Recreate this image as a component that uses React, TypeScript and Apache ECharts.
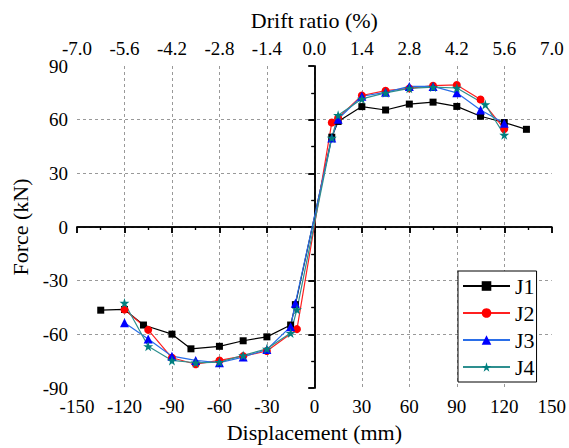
import React, { useEffect, useRef } from "react";
import * as echarts from "echarts";

const seriesNames = ["J1", "J2", "J3", "J4"];

const j1X = [-135, -120, -108, -90, -78, -60, -45, -30, -15, -12, 11, 15, 30, 45, 60, 75, 90, 105, 120, 134];
const j1Y = [-46.5, -46.1, -54.8, -59.9, -68.1, -66.7, -63.6, -61.4, -54.8, -43.4, 50.2, 59, 67.3, 65.4, 68.7, 69.8, 67.4, 61.9, 58.4, 54.6];

const j2X = [-120, -105, -90, -75, -60, -45, -30, -11, 11, 15, 30, 45, 60, 75, 90, 105, 120];
const j2Y = [-46.1, -57.5, -73.1, -76.7, -74.6, -72.2, -69.3, -57.1, 58.4, 61, 73.5, 76.2, 77.5, 79, 79.4, 71.3, 54.8];

const j3X = [-120, -105, -90, -75, -60, -45, -30, -15, -12, 11, 15, 30, 45, 60, 75, 90, 105, 120];
const j3Y = [-53.5, -62.6, -72.2, -74.6, -75.9, -72.7, -68.5, -55.7, -42.6, 49.8, 60.3, 73.1, 75.3, 78.6, 78.6, 75, 65.4, 58];

const j4X = [-120, -105, -90, -75, -60, -45, -30, -15, -11, 11, 15, 30, 45, 60, 75, 90, 108, 120];
const j4Y = [-42.5, -66.7, -74.6, -75.9, -75.5, -71.8, -68.1, -59.3, -46.1, 49.8, 62.5, 71.6, 75, 77.5, 78.2, 77.7, 68.5, 51.5];

const STAR = "path://M50,0 L61,35 L98,35 L68,57 L79,91 L50,70 L21,91 L32,57 L2,35 L39,35 Z";

const pairs = (xs: number[], ys: number[]) => xs.map((x, i) => [x, ys[i]]);

export default function App() {
  const ref = useRef<HTMLDivElement>(null);
  useEffect(() => {
    document.body.style.margin = "0";
    const chart = echarts.init(ref.current!, null, { renderer: "svg" });
    const font = "'Liberation Serif', 'Times New Roman', serif";
    const axisLine = { show: true, lineStyle: { color: "#000", width: 1.5 } };
    const labelStyle = { fontFamily: font, fontSize: 19, color: "#000" };
    const split = { show: true, showMinLine: false, showMaxLine: false, lineStyle: { color: "#999", type: [3, 3], width: 1 } };
    chart.setOption({
      animation: false,
      backgroundColor: "#fff",
      textStyle: { fontFamily: font },
      grid: { left: 77, right: 17, top: 66, bottom: 55, containLabel: false },
      xAxis: [
        {
          type: "value", min: -150, max: 150, interval: 30, position: "bottom",
          name: "Displacement (mm)", nameLocation: "middle", nameGap: 33,
          nameTextStyle: { fontFamily: font, fontSize: 22, color: "#000" },
          axisLine, axisTick: { show: true, inside: false, length: 6, lineStyle: { color: "#000", width: 1.5 } },
          minorTick: { show: true, splitNumber: 2, length: 3, lineStyle: { color: "#000", width: 1.2 } },
          axisLabel: { ...labelStyle, margin: 9 },
          splitLine: split,
        },
        {
          type: "value", min: -7, max: 7, interval: 1.4, position: "top",
          name: "Drift ratio (%)", nameLocation: "middle", nameGap: 35,
          nameTextStyle: { fontFamily: font, fontSize: 22, color: "#000" },
          axisLine, axisTick: { show: true, inside: true, length: 6, lineStyle: { color: "#000", width: 1.5 } },
          minorTick: { show: true, splitNumber: 2, length: 3, lineStyle: { color: "#000", width: 1.2 } },
          axisLabel: { ...labelStyle, margin: 8, formatter: (v: number) => v.toFixed(1) },
          splitLine: { show: false },
        },
      ],
      yAxis: [
        {
          type: "value", min: -90, max: 90, interval: 30, position: "left",
          name: "Force (kN)", nameLocation: "middle", nameGap: 45,
          nameTextStyle: { fontFamily: font, fontSize: 22, color: "#000" },
          axisLine, axisTick: { show: true, inside: false, length: 6, lineStyle: { color: "#000", width: 1.5 } },
          minorTick: { show: true, splitNumber: 2, length: 3, lineStyle: { color: "#000", width: 1.2 } },
          axisLabel: { ...labelStyle, margin: 9 },
          splitLine: split,
        },
        {
          type: "value", min: -90, max: 90, interval: 30, position: "right",
          axisLine, axisTick: { show: true, inside: true, length: 6, lineStyle: { color: "#000", width: 1.5 } },
          minorTick: { show: true, splitNumber: 2, length: 3, lineStyle: { color: "#000", width: 1.2 } },
          axisLabel: { show: false },
          splitLine: { show: false },
        },
      ],
      legend: {
        orient: "vertical", left: 458, top: 271,
        data: seriesNames,
        itemWidth: 47, itemHeight: 12, itemGap: 5,
        padding: [4, 2, 4, 4],
        borderColor: "#000", borderWidth: 1, backgroundColor: "#fff",
        textStyle: { fontFamily: font, fontSize: 22, color: "#000", lineHeight: 21, padding: 0 },
      },
      series: [
        {
          name: "J1", type: "line", data: pairs(j1X, j1Y), symbol: "rect", symbolSize: 7,
          itemStyle: { color: "#000" }, lineStyle: { color: "#000", width: 1.2 },
        },
        {
          name: "J2", type: "line", data: pairs(j2X, j2Y), symbol: "circle", symbolSize: 8,
          itemStyle: { color: "#ff0000" }, lineStyle: { color: "#ff2020", width: 1.2 },
        },
        {
          name: "J3", type: "line", data: pairs(j3X, j3Y), symbol: "triangle", symbolSize: 9,
          itemStyle: { color: "#0000ff" }, lineStyle: { color: "#2a6ee8", width: 1.2 },
        },
        {
          name: "J4", type: "line", data: pairs(j4X, j4Y), symbol: STAR, symbolSize: 10,
          itemStyle: { color: "#007f7f" }, lineStyle: { color: "#2e8f8f", width: 1.2 },
        },
      ],
    });
    return () => chart.dispose();
  }, []);
  return <div ref={ref} style={{ width: 569, height: 448 }} />;
}
